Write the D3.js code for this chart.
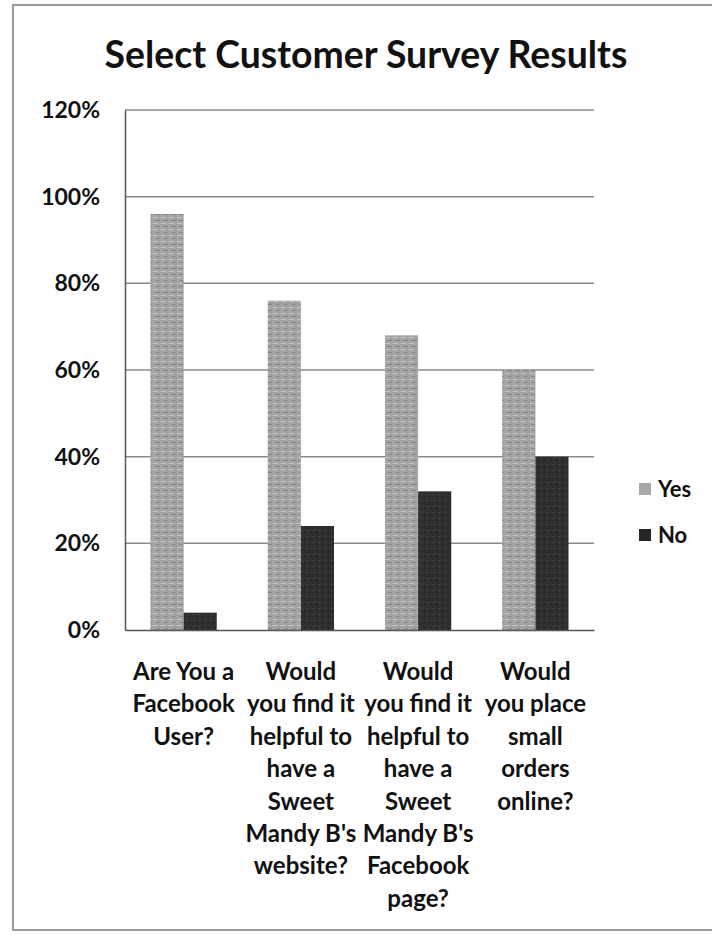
<!DOCTYPE html>
<html>
<head>
<meta charset="utf-8">
<script src="https://cdn.jsdelivr.net/npm/d3@7"></script>
<style>
  html, body { margin: 0; padding: 0; background: #ffffff; }
  svg { display: block; }
  text { font-family: Lato, "Open Sans", sans-serif; font-weight: bold; fill: #111; }
</style>
</head>
<body>
<svg id="chart" width="712" height="940"></svg>
<script>
// ---- data ----
const title = "Select Customer Survey Results";
const categories = [
  "Are You a Facebook User?",
  "Would you find it helpful to have a Sweet Mandy B's website?",
  "Would you find it helpful to have a Sweet Mandy B's Facebook page?",
  "Would you place small orders online?"
];
const categoryLines = [
  ["Are You a", "Facebook", "User?"],
  ["Would", "you find it", "helpful to", "have a", "Sweet", "Mandy B's", "website?"],
  ["Would", "you find it", "helpful to", "have a", "Sweet", "Mandy B's", "Facebook", "page?"],
  ["Would", "you place", "small", "orders", "online?"]
];
const seriesNames = ["Yes", "No"];
const yesValues = [0.96, 0.76, 0.68, 0.60];
const noValues = [0.04, 0.24, 0.32, 0.40];
const yTicks = [0, 0.2, 0.4, 0.6, 0.8, 1.0, 1.2];
const tickLabels = ["0%", "20%", "40%", "60%", "80%", "100%", "120%"];

// ---- layout ----
const svg = d3.select("#chart");
const plot = { left: 125, right: 594, top: 110, bottom: 630 };
const colors = { Yes: "#a2a2a2", No: "#2f2f2f" };

// outer frame (scanned page border)
svg.append("rect").attr("x", 13).attr("y", 5).attr("width", 760).attr("height", 925)
  .attr("fill", "none").attr("stroke", "#9a9a9a").attr("stroke-width", 2);

// texture patterns
const defs = svg.append("defs");
const pYes = defs.append("pattern").attr("id", "patYes").attr("patternUnits", "userSpaceOnUse")
  .attr("width", 8).attr("height", 6);
pYes.append("rect").attr("width", 8).attr("height", 6).attr("fill", colors.Yes);
pYes.append("rect").attr("x", 1).attr("y", 1).attr("width", 5).attr("height", 1).attr("fill", "#c4c4c4");
pYes.append("rect").attr("x", 4).attr("y", 4).attr("width", 4).attr("height", 1).attr("fill", "#858585");
const pNo = defs.append("pattern").attr("id", "patNo").attr("patternUnits", "userSpaceOnUse")
  .attr("width", 6).attr("height", 6);
pNo.append("rect").attr("width", 6).attr("height", 6).attr("fill", colors.No);
pNo.append("rect").attr("x", 1).attr("y", 2).attr("width", 1).attr("height", 1).attr("fill", "#555");
pNo.append("rect").attr("x", 4).attr("y", 4).attr("width", 1).attr("height", 1).attr("fill", "#1a1a1a");

// scales
const x0 = d3.scaleBand().domain(categories).range([plot.left, plot.right])
  .paddingInner(0.435).paddingOuter(0.2175);
const x1 = d3.scaleBand().domain(seriesNames).range([0, x0.bandwidth()]).padding(0);
const y = d3.scaleLinear().domain([0, 1.2]).range([plot.bottom, plot.top]);

// title
const t = svg.append("text").attr("x", 366).attr("y", 68).attr("text-anchor", "middle")
  .style("font-size", "31px").text(title);
function fitWidth(sel, target) {
  const w = sel.node().getComputedTextLength();
  const fs = parseFloat(sel.style("font-size"));
  sel.style("font-size", (fs * target / w) + "px");
}
fitWidth(t, 523);

// gridlines
svg.append("g").selectAll("line").data(yTicks.filter(d => d > 0)).join("line")
  .attr("x1", plot.left).attr("x2", plot.right)
  .attr("y1", d => y(d)).attr("y2", d => y(d))
  .attr("stroke", "#8a8a8a").attr("stroke-width", 1.5);

// y axis
const yAxis = d3.axisLeft(y).tickValues(yTicks).tickFormat((d, i) => tickLabels[i]).tickSize(0).tickPadding(25);
const gy = svg.append("g").attr("transform", `translate(${plot.left},0)`).call(yAxis);
gy.select(".domain").attr("stroke", "#555").attr("stroke-width", 1.5);
gy.selectAll("text").style("font-size", "23px").style("font-family", "Lato, sans-serif")
  .style("font-weight", "bold").attr("fill", "#111");

// bars
const series = [
  { name: "Yes", values: yesValues, fill: "url(#patYes)" },
  { name: "No", values: noValues, fill: "url(#patNo)" }
];
const gBars = svg.append("g");
series.forEach(s => {
  gBars.append("g").selectAll("rect").data(categories).join("rect")
    .attr("x", (c) => x0(c) + x1(s.name))
    .attr("width", x1.bandwidth())
    .attr("y", (c, i) => y(s.values[i]))
    .attr("height", (c, i) => y(0) - y(s.values[i]))
    .attr("fill", s.fill);
});

// x axis baseline
const xAxis = d3.axisBottom(x0).tickSize(0).tickFormat("");
const gx = svg.append("g").attr("transform", `translate(0,${plot.bottom})`).call(xAxis);
gx.select(".domain").attr("stroke", "#555").attr("stroke-width", 1.5);

// category labels
const gLab = svg.append("g");
categories.forEach((c, i) => {
  const cx = x0(c) + x0.bandwidth() / 2;
  const txt = gLab.append("text").attr("text-anchor", "middle").style("font-size", "24px");
  categoryLines[i].forEach((ln, j) => {
    txt.append("tspan").attr("x", cx).attr("y", 680 + j * 32.4).text(ln);
  });
});

// legend
const legend = svg.append("g");
seriesNames.forEach((n, i) => {
  const ly = 489 + i * 46;
  legend.append("rect").attr("x", 639).attr("y", ly - 6).attr("width", 12).attr("height", 12)
    .attr("fill", i === 0 ? "#a8a8a8" : "#262626");
  legend.append("text").attr("x", 658).attr("y", ly + 8).style("font-size", "22px").text(n);
});
</script>
</body>
</html>
